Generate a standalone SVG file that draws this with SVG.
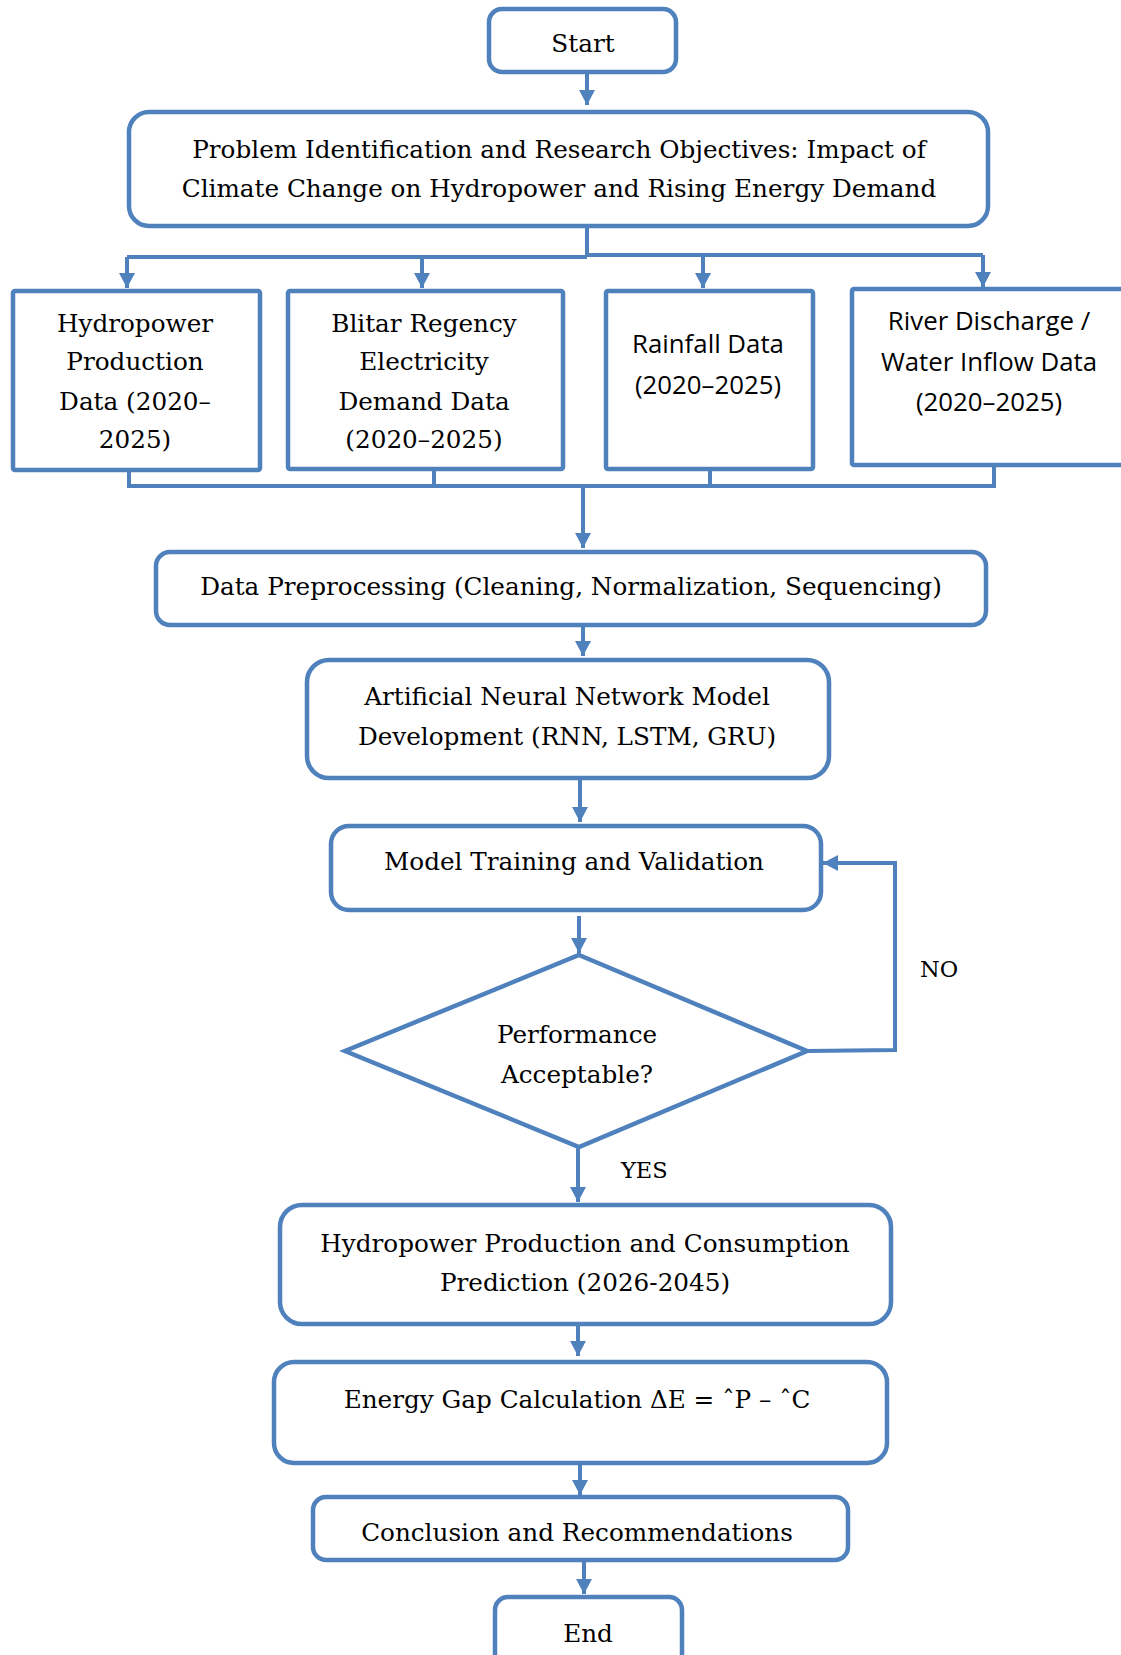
<svg xmlns="http://www.w3.org/2000/svg" width="1121" height="1655" viewBox="0 0 1121 1655">
<defs>
<style>
.box{fill:#fff;stroke:#4F81BD;stroke-width:4.5}
.ln{fill:none;stroke:#4F81BD;stroke-width:4}
.t{font-family:"DejaVu Serif","Liberation Serif",serif;font-size:24.7px;fill:#000;text-anchor:middle}
.s{font-family:"Open Sans","Liberation Sans",sans-serif;font-size:25.8px;fill:#000;text-anchor:middle}
.lbl{font-family:"DejaVu Serif","Liberation Serif",serif;font-size:22.5px;fill:#000}
</style>
<marker id="ah" markerUnits="userSpaceOnUse" markerWidth="16" markerHeight="16" viewBox="0 0 16 16" refX="15" refY="8" orient="auto">
<path d="M0,0 L15,8 L0,16 Z" fill="#4F81BD"/>
</marker>
</defs>
<rect width="1121" height="1655" fill="#fff"/>

<g id="connectors">
<line class="ln" x1="587" y1="72" x2="587" y2="105" marker-end="url(#ah)"/>
<polyline class="ln" points="587,227 587,256"/>
<polyline class="ln" points="127,257 587,257"/>
<polyline class="ln" points="587,255 983,255"/>
<line class="ln" x1="127" y1="257" x2="127" y2="288" marker-end="url(#ah)"/>
<line class="ln" x1="422" y1="257" x2="422" y2="288" marker-end="url(#ah)"/>
<line class="ln" x1="703" y1="255" x2="703" y2="288" marker-end="url(#ah)"/>
<line class="ln" x1="983" y1="255" x2="983" y2="287" marker-end="url(#ah)"/>
<polyline class="ln" points="129,470 129,486 994,486 994,465"/>
<line class="ln" x1="434" y1="469" x2="434" y2="486"/>
<line class="ln" x1="710" y1="469" x2="710" y2="486"/>
<line class="ln" x1="583" y1="486" x2="583" y2="548" marker-end="url(#ah)"/>
<line class="ln" x1="583" y1="625" x2="583" y2="656" marker-end="url(#ah)"/>
<line class="ln" x1="580" y1="778" x2="580" y2="822" marker-end="url(#ah)"/>
<line class="ln" x1="579" y1="916" x2="579" y2="953" marker-end="url(#ah)"/>
<polyline class="ln" points="807,1051 895,1050 895,863 823,863" marker-end="url(#ah)"/>
<line class="ln" x1="578" y1="1147" x2="578" y2="1202" marker-end="url(#ah)"/>
<line class="ln" x1="578" y1="1324" x2="578" y2="1356" marker-end="url(#ah)"/>
<line class="ln" x1="580" y1="1463" x2="580" y2="1495" marker-end="url(#ah)"/>
<line class="ln" x1="584" y1="1560" x2="584" y2="1594" marker-end="url(#ah)"/>
<text class="lbl" x="920" y="977">NO</text>
<text class="lbl" x="621" y="1178">YES</text>
</g>

<g id="start">
<rect class="box" x="489" y="9" width="187" height="63" rx="13"/>
<text class="t" x="583" y="52">Start</text>
</g>

<g id="problem">
<rect class="box" x="129" y="112" width="859" height="114" rx="20"/>
<text class="t" x="559" y="158">Problem Identification and Research Objectives: Impact of</text>
<text class="t" x="559" y="197">Climate Change on Hydropower and Rising Energy Demand</text>
</g>

<g id="hydro-data">
<rect class="box" x="13" y="291" width="247" height="179" rx="2"/>
<text class="t" x="135" y="332">Hydropower</text>
<text class="t" x="135" y="370">Production</text>
<text class="t" x="135" y="410">Data (2020–</text>
<text class="t" x="135" y="448">2025)</text>
</g>

<g id="demand-data">
<rect class="box" x="288" y="291" width="275" height="178" rx="2"/>
<text class="t" x="424" y="332">Blitar Regency</text>
<text class="t" x="424" y="370">Electricity</text>
<text class="t" x="424" y="410">Demand Data</text>
<text class="t" x="424" y="448">(2020–2025)</text>
</g>

<g id="rainfall-data">
<rect class="box" x="606" y="291" width="207" height="178" rx="2"/>
<text class="s" x="708" y="353">Rainfall Data</text>
<text class="s" x="708" y="394">(2020–2025)</text>
</g>

<g id="river-data">
<rect class="box" x="852" y="289" width="280" height="176" rx="2"/>
<text class="s" x="989" y="330">River Discharge /</text>
<text class="s" x="989" y="371">Water Inflow Data</text>
<text class="s" x="989" y="411">(2020–2025)</text>
</g>

<g id="preprocessing">
<rect class="box" x="156" y="552" width="830" height="73" rx="14"/>
<text class="t" x="571" y="595">Data Preprocessing (Cleaning, Normalization, Sequencing)</text>
</g>

<g id="ann">
<rect class="box" x="307" y="660" width="522" height="118" rx="22"/>
<text class="t" x="567" y="705">Artificial Neural Network Model</text>
<text class="t" x="567" y="745">Development (RNN, LSTM, GRU)</text>
</g>

<g id="training">
<rect class="box" x="331" y="826" width="490" height="84" rx="18"/>
<text class="t" x="574" y="870">Model Training and Validation</text>
</g>

<g id="decision">
<polygon class="box" points="579,955 807,1051 579,1147 345,1051"/>
<text class="t" x="577" y="1043">Performance</text>
<text class="t" x="577" y="1083">Acceptable?</text>
</g>

<g id="prediction">
<rect class="box" x="280" y="1205" width="611" height="119" rx="22"/>
<text class="t" x="585" y="1252">Hydropower Production and Consumption</text>
<text class="t" x="585" y="1291">Prediction (2026-2045)</text>
</g>

<g id="energy-gap">
<rect class="box" x="274" y="1362" width="613" height="101" rx="20"/>
<text class="t" x="577" y="1408">Energy Gap Calculation ΔE = ˆP – ˆC</text>
</g>

<g id="conclusion">
<rect class="box" x="313" y="1497" width="535" height="63" rx="13"/>
<text class="t" x="577" y="1541">Conclusion and Recommendations</text>
</g>

<g id="end">
<rect class="box" x="495" y="1597" width="187" height="80" rx="13"/>
<text class="t" x="588" y="1642">End</text>
</g>
</svg>
